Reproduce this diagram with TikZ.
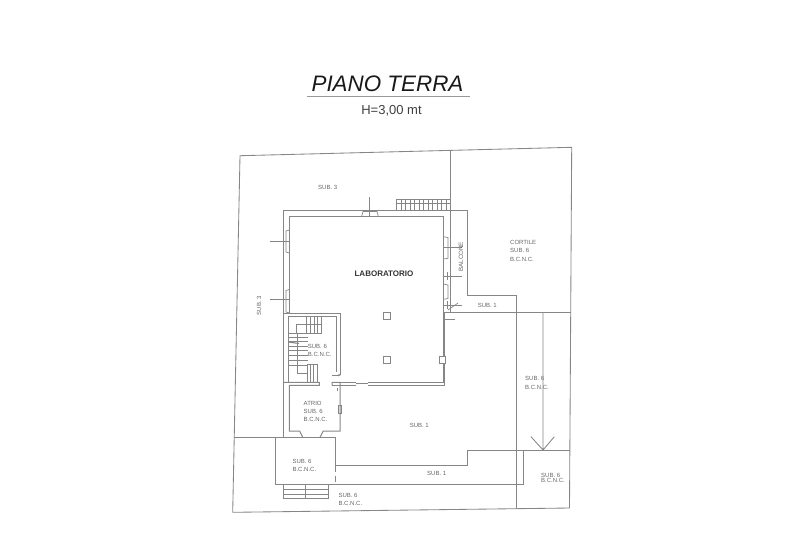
\documentclass[tikz,border=0pt]{standalone}
\usepackage{fontspec}
\setmainfont{Liberation Sans}
\usetikzlibrary{arrows.meta}
\tikzset{
  plan/.style={draw=linegray,line width=0.85pt},
  wall/.style={draw=linegray,line width=1pt},
  thin plan/.style={draw=linegray,line width=0.7pt},
  lbl/.style={text=labelgray,font=\fontsize{6}{6}\selectfont,inner sep=0pt,anchor=west},
  clbl/.style={text=labelgray,font=\fontsize{6}{6}\selectfont,inner sep=0pt},
}
\definecolor{linegray}{HTML}{868686}
\definecolor{labelgray}{HTML}{666666}
\begin{document}
\begin{tikzpicture}[x=1pt,y=-1pt]
\useasboundingbox (0,0) rectangle (800,550);
% title
\node[inner sep=0pt,font=\fontsize{22.4}{22.4}\selectfont\itshape,text=black!90] (title) at (387.5,83.5) {PIANO TERRA};
\draw[draw=black!40,line width=1.4pt] (307,96.7) -- (470,96.7);
\node[inner sep=0pt,font=\fontsize{13}{13}\selectfont,text=black!75] (height) at (391.5,110.5) {H=3,00 mt};
% boundary
\draw[plan] (240,155.7) -- (571.7,147.3) -- (569.5,508) -- (232.7,512.3) -- cycle;
% building outer and balcony
\draw[plan] (450,150.8) -- (450,312.7);
\draw[wall] (283.3,437.3) -- (283.3,210) -- (467,210);
\draw[plan] (467,210) -- (467,295.3) -- (516,295.3) -- (516,508.5);
\draw[wall] (289.3,313.3) -- (289.3,216.3) -- (443.3,216.3) -- (443.3,312.7);
\draw[plan] (443.3,312.7) -- (570.7,312.7);
\draw[wall] (444.8,312.7) -- (444.8,385.3);
\draw[wall] (443.3,312.7) -- (443.3,382.7);
% lab bottom
\draw[wall] (340,382.7) -- (356,382.7) (367.7,382.7) -- (445,382.7);
\draw[wall] (340,385) -- (356,385) (367.7,385) -- (445,385);
\draw[thin plan] (356,383.8) -- (367.7,383.8);
% stair room
\draw[wall] (283.3,313.3) -- (340,313.3) -- (340,375);
\draw[thin plan] (288.3,316.3) -- (336,316.3) -- (336,372);
\draw[thin plan] (288.3,316.3) -- (288.3,382.3);
\draw[wall] (283.3,382.3) -- (319.3,382.3) -- (319.3,385.3) -- (289.3,385.3) -- (289.3,431) -- (299.7,431) -- (302.7,437.3);
\draw[wall] (332,385.3) -- (332,382.3) -- (340,382.3) -- (340,431) -- (323.3,431) -- (320,437.3);
\draw[wall] (332,385.3) -- (340,385.3);
\draw[thin plan] (338.5,405) rectangle (341,413);
\draw[thin plan,-{Stealth[length=3pt,width=2.5pt]}] (331.7,375) -- (341,375);
\draw[thin plan] (337,388) -- (337,391);
% entrance block
\draw[plan] (234.3,437.3) -- (335.3,437.3) -- (335.3,465.7) -- (467.7,465.7) -- (467.7,450) -- (570,450);
\draw[plan] (275.7,437.3) -- (275.7,484) -- (523.3,484) -- (523.3,450);
\draw[plan,dash pattern=on 6pt off 4pt] (335.3,465.7) -- (335.3,484);
% steps outside
\draw[thin plan] (283.3,484) rectangle (328.3,498.7);
\draw[thin plan] (283.3,489.3) -- (328.3,489.3) (283.3,494) -- (328.3,494) (305.3,484) -- (305.3,498.7);
% corridor arrow
\draw[plan] (543,312.7) -- (543,450) (531,436.7) -- (543,450) -- (554.3,436.7);
% top stairs
\draw[thin plan] (396.7,199) rectangle (450,210);
\draw[thin plan] (396.7,203.5) -- (450,203.5);
\foreach \vx in {401,405.5,410,414.5,419,423.5,428,432.5,437,441.5,446}{\draw[thin plan] (\vx,199) -- (\vx,210);}
% windows left
\draw[thin plan] (289.3,253) -- (286,252) -- (286,231) -- (289.3,230);
\draw[thin plan] (270,241.7) -- (289.3,241.7);
\draw[thin plan] (289.3,313) -- (286,312) -- (286,290.5) -- (289.3,289.5);
\draw[thin plan] (270,299.3) -- (289.3,299.3);
% window top
\draw[thin plan] (361.7,216.3) -- (363,211.5) -- (377,211.5) -- (378.3,216.3);
\draw[thin plan] (369.3,197.3) -- (369.3,216.3);
% windows right
\draw[thin plan] (443.3,236.7) -- (448,237.5) -- (448,258.3) -- (443.3,259);
\draw[thin plan] (443.3,247.3) -- (461.7,247.3);
\draw[thin plan] (443.3,276) -- (461.7,276) (447,272) -- (447,280);
\draw[thin plan] (443.3,284) -- (448,285) -- (448,298.5) -- (443.3,299.3);
\draw[thin plan] (443.3,305) -- (461.7,305) (447,301) -- (447,309);
\draw[thin plan] (458,303) -- (448,310);
\draw[thin plan] (445,319) -- (455,319);
% pillars
\draw[thin plan] (383.3,312.7) rectangle (390,319.3);
\draw[thin plan] (383.3,356.7) rectangle (390,363.3);
\draw[thin plan,fill=white] (439,356.7) rectangle (445.7,363.3);
% stairs
\draw[thin plan] (296.7,333.3) -- (296.7,324.3) -- (321.7,324.3) -- (321.7,333.3) -- (288.3,333.3);
\foreach \vx in {306.7,310.4,314.1,317.8,321.7}{\draw[thin plan] (\vx,316.3) -- (\vx,333.3);}
\foreach \vy in {337.3,341.7,346,350.3,355,360,365}{\draw[thin plan] (288.3,\vy) -- (308,\vy);}
\draw[thin plan] (297.3,333.3) -- (297.3,373) -- (307,373);
\draw[thin plan] (307,364) -- (317.3,364) -- (317.3,382.3);
\foreach \vx in {307,310.4,313.8}{\draw[thin plan] (\vx,364) -- (\vx,382.3);}
\draw[line width=1.1pt,draw=linegray] (288.3,342) -- (299,343.5);
% labels
\node[clbl] (s3a) at (327.7,187) {SUB. 3};
\node[clbl,rotate=90] (s3b) at (259,305.7) {SUB. 3};
\node[inner sep=0pt,font=\bfseries\fontsize{8}{8}\selectfont,text=black!80] (lab) at (384,274) {LABORATORIO};
\node[clbl,rotate=90,font=\fontsize{6.2}{6.2}\selectfont] (bal) at (461,256.7) {BALCONE};
\node[lbl] (c1) at (510,242.7) {CORTILE};
\node[lbl] (c2) at (510,250.5) {SUB. 6};
\node[lbl] (c3) at (510,259.7) {B.C.N.C.};
\node[clbl] (s1a) at (487.3,305.3) {SUB. 1};
\node[lbl] (r1) at (307.7,346) {SUB. 6};
\node[lbl] (r2) at (307.7,354.5) {B.C.N.C.};
\node[lbl] (a1) at (303.5,403) {ATRIO};
\node[lbl] (a2) at (303.5,411) {SUB. 6};
\node[lbl] (a3) at (303.5,419) {B.C.N.C.};
\node[lbl] (e1) at (292.3,461) {SUB. 6};
\node[lbl] (e2) at (292.3,469.3) {B.C.N.C.};
\node[lbl] (f1) at (338.3,495) {SUB. 6};
\node[lbl] (f2) at (338.3,503.3) {B.C.N.C.};
\node[lbl] (g1) at (525,378) {SUB. 6};
\node[lbl] (g2) at (525,387.3) {B.C.N.C.};
\node[clbl] (s1b) at (419.3,425.3) {SUB. 1};
\node[clbl] (s1c) at (436.7,473) {SUB. 1};
\node[lbl] (h1) at (541,475) {SUB. 6};
\node[lbl] (h2) at (541,480) {B.C.N.C.};
\end{tikzpicture}
\end{document}
